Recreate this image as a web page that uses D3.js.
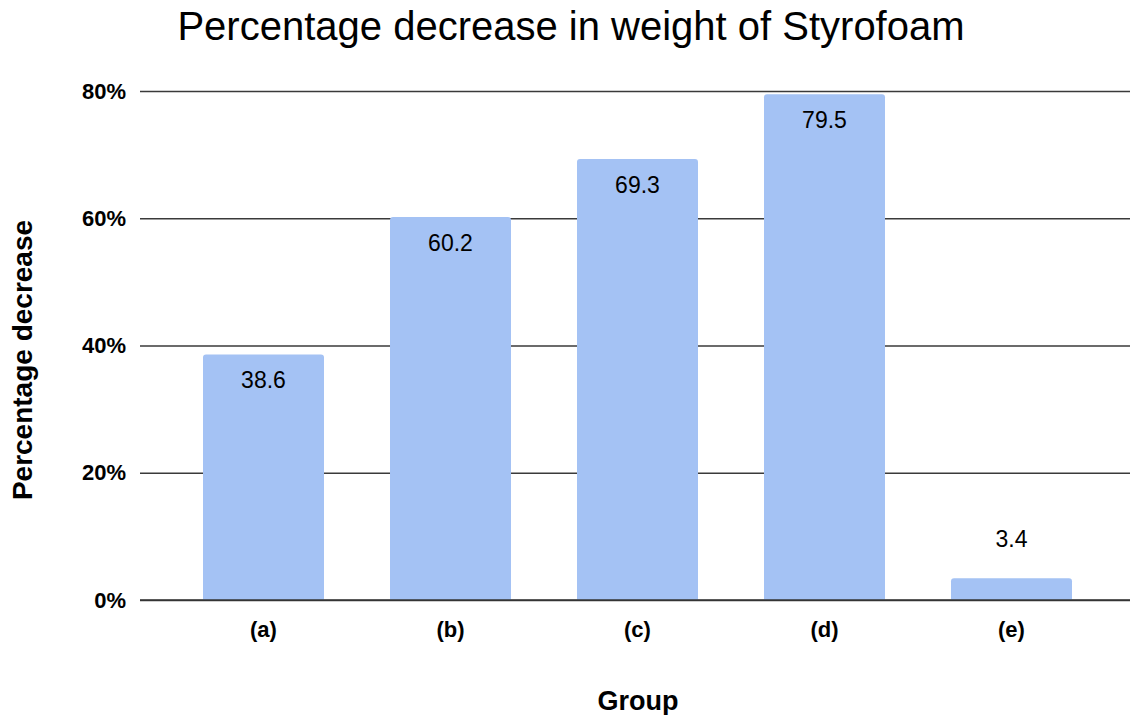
<!DOCTYPE html>
<html>
<head>
<meta charset="utf-8">
<script src="https://cdn.jsdelivr.net/npm/d3@7"></script>
<style>
  body { margin: 0; background: #fff; }
  text { font-family: "Liberation Sans", Arial, sans-serif; }
</style>
</head>
<body>
<div id="graph"></div>
<script>
// chart data
const groups = ["(a)", "(b)", "(c)", "(d)", "(e)"];
const decrease = [38.6, 60.2, 69.3, 79.5, 3.4];
const yTicks = [0, 0.2, 0.4, 0.6, 0.8];

const W = 1130, H = 715;
const plot = { left: 140, right: 1130, top: 91, bottom: 600 };

let svg = d3.select("#graph")
    .append("svg")
    .attr("width", W)
    .attr("height", H);

// title
svg.append("text")
    .attr("x", 571)
    .attr("y", 40)
    .attr("text-anchor", "middle")
    .attr("font-size", "40px")
    .attr("fill", "#000")
    .text("Percentage decrease in weight of Styrofoam");

// scales
let x = d3.scaleBand()
    .domain(groups)
    .range([170, 1105])
    .paddingInner(0.353)
    .paddingOuter(0.1765);

let y = d3.scaleLinear()
    .domain([0, 0.8])
    .range([plot.bottom, plot.top]);

// gridlines + y labels
let yAxis = svg.append("g")
    .attr("transform", "translate(" + plot.left + ",0)")
    .call(d3.axisLeft(y).tickValues(yTicks).tickFormat(d3.format(".0%"))
        .tickSize(-(plot.right - plot.left)).tickPadding(14));
yAxis.select(".domain").remove();
yAxis.selectAll("line")
    .attr("stroke", "#3a3a3a")
    .attr("stroke-width", 1.4);
yAxis.selectAll("text")
    .attr("font-size", "22px")
    .attr("font-weight", "bold")
    .attr("fill", "#000");

// bars
const r = 3;
svg.append("g")
    .selectAll("path")
    .data(decrease)
    .enter()
    .append("path")
    .attr("fill", "#a4c2f4")
    .attr("d", (d, i) => {
        let x0 = x(groups[i]), x1 = x0 + x.bandwidth();
        let y0 = y(d / 100), y1 = y(0);
        return "M" + x0 + "," + y1 +
            "V" + (y0 + r) +
            "Q" + x0 + "," + y0 + " " + (x0 + r) + "," + y0 +
            "H" + (x1 - r) +
            "Q" + x1 + "," + y0 + " " + x1 + "," + (y0 + r) +
            "V" + y1 + "Z";
    });

// baseline drawn over the bars
svg.append("line")
    .attr("x1", plot.left).attr("x2", plot.right)
    .attr("y1", y(0)).attr("y2", y(0))
    .attr("stroke", "#333").attr("stroke-width", 1.6);

// value labels
svg.append("g")
    .selectAll("text")
    .data(decrease)
    .enter()
    .append("text")
    .attr("x", (d, i) => x(groups[i]) + x.bandwidth() / 2)
    .attr("y", (d) => {
        let top = y(d / 100);
        return (y(0) - top > 50) ? top + 34 : top - 31;
    })
    .attr("text-anchor", "middle")
    .attr("font-size", "23px")
    .attr("fill", "#000")
    .text((d) => d);

// x labels
svg.append("g")
    .selectAll("text")
    .data(groups)
    .enter()
    .append("text")
    .attr("x", (d) => x(d) + x.bandwidth() / 2)
    .attr("y", 637)
    .attr("text-anchor", "middle")
    .attr("font-size", "22px")
    .attr("font-weight", "bold")
    .attr("fill", "#000")
    .text((d) => d);

// axis titles
svg.append("text")
    .attr("x", 638)
    .attr("y", 710)
    .attr("text-anchor", "middle")
    .attr("font-size", "27px")
    .attr("font-weight", "bold")
    .text("Group");

svg.append("text")
    .attr("transform", "translate(32,360) rotate(-90)")
    .attr("text-anchor", "middle")
    .attr("font-size", "28px")
    .attr("font-weight", "bold")
    .text("Percentage decrease");
</script>
</body>
</html>
